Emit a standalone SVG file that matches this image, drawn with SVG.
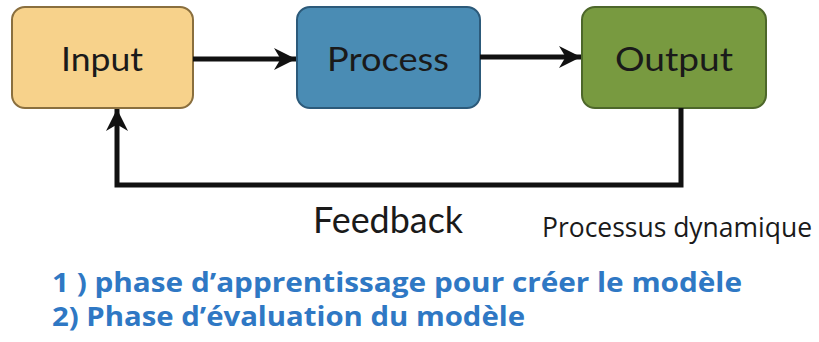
<svg xmlns="http://www.w3.org/2000/svg" width="819" height="342" viewBox="0 0 819 342">
<defs>
<marker id="ah" viewBox="0 0 10 10" refX="10" refY="5" markerWidth="4.4" markerHeight="4.4" markerUnits="strokeWidth" orient="auto">
<path d="M0,0 L10,5 L0,10 L3,5 Z" fill="#111"/>
</marker>
</defs>
<style>
.box{stroke-width:2}
.lbl{font-family:Lato,"Open Sans",sans-serif;font-size:33px;fill:#1a1a1a;text-anchor:middle}
.con{fill:none;stroke:#111;stroke-width:5}
.blue{font-family:"Open Sans","Noto Sans",sans-serif;font-weight:bold;font-size:26px;fill:#2f78c4}
</style>
<rect width="819" height="342" fill="#fff"/>
<g id="input">
<rect class="box" x="12" y="7" width="181" height="101" rx="13" fill="#f7d28b" stroke="#8a6f3e"/>
<text class="lbl" x="102" y="71" textLength="82" lengthAdjust="spacingAndGlyphs">Input</text>
</g>
<g id="process">
<rect class="box" x="297" y="7" width="183" height="101" rx="13" fill="#4a8cb4" stroke="#2c5a7a"/>
<text class="lbl" x="388" y="71" textLength="122" lengthAdjust="spacingAndGlyphs">Process</text>
</g>
<g id="output">
<rect class="box" x="582" y="7" width="184" height="101" rx="13" fill="#789a40" stroke="#4d672a"/>
<text class="lbl" x="674" y="71" textLength="118" lengthAdjust="spacingAndGlyphs">Output</text>
</g>
<g id="connectors">
<line class="con" x1="193" y1="59" x2="296" y2="59" marker-end="url(#ah)"/>
<line class="con" x1="480" y1="57" x2="581" y2="57" marker-end="url(#ah)"/>
<polyline class="con" points="681,108 681,185 117,185 117,109" marker-end="url(#ah)"/>
</g>
<text x="313" y="233" font-family="Lato,'Open Sans',sans-serif" font-size="36" fill="#1a1a1a" textLength="150" lengthAdjust="spacingAndGlyphs">Feedback</text>
<text x="542" y="237" font-family="'Open Sans','Noto Sans',sans-serif" font-size="27" fill="#1a1a1a" textLength="270" lengthAdjust="spacingAndGlyphs">Processus dynamique</text>
<text class="blue" x="52" y="292" textLength="690" lengthAdjust="spacingAndGlyphs">1 ) phase d’apprentissage pour créer le modèle</text>
<text class="blue" x="52" y="326" textLength="473" lengthAdjust="spacingAndGlyphs">2) Phase d’évaluation du modèle</text>
</svg>
